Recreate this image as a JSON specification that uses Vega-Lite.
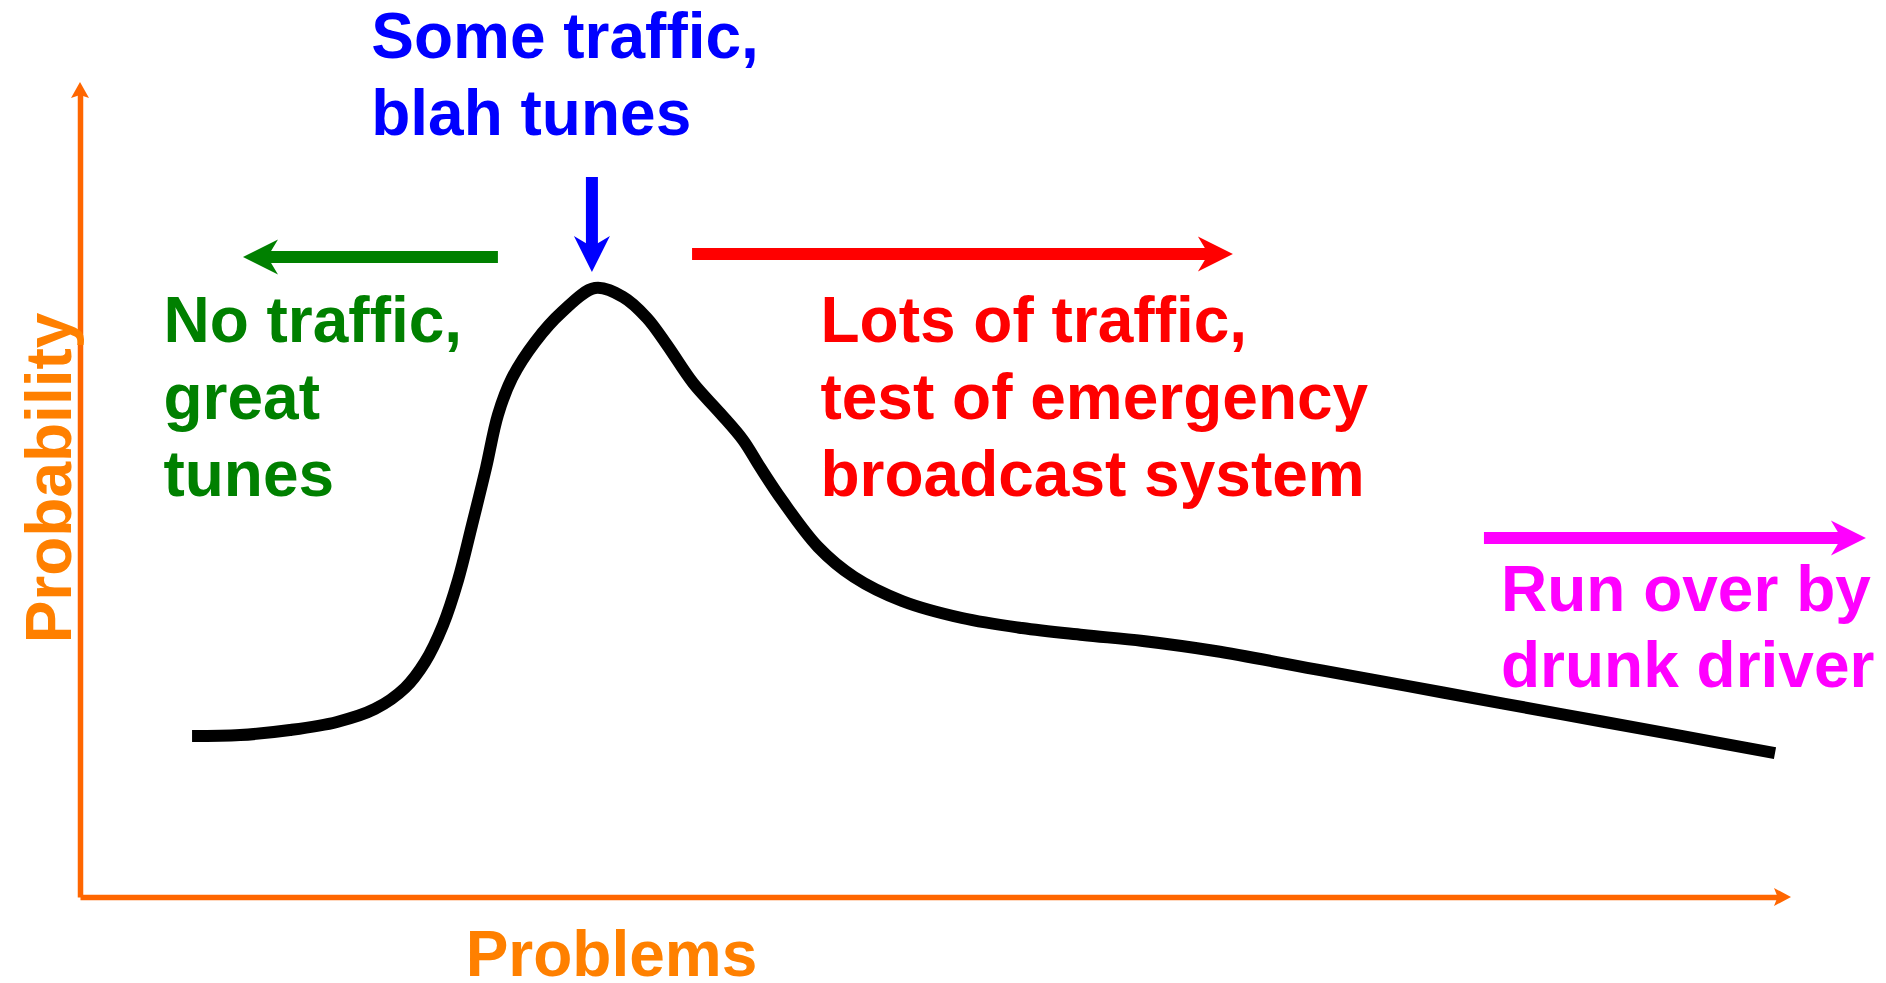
{
  "$schema": "https://vega.github.io/schema/vega-lite/v6.json",
  "autosize": {"type": "none"},
  "padding": {"left": 80, "top": 90, "right": 103, "bottom": 86},
  "width": 1703,
  "height": 807,
  "background": "white",
  "config": {"view": {"stroke": null}},
  "encoding": {
    "x": {
      "field": "x", "type": "quantitative",
      "scale": {"domain": [0, 100], "nice": false, "zero": false},
      "axis": {
        "title": "Problems", "domainColor": "#FF6600", "domainWidth": 5.5,
        "ticks": false, "labels": false, "grid": false,
        "titleFont": "Liberation Sans", "titleFontSize": 64, "titleFontWeight": "bold",
        "titleColor": "#FF8000", "titleX": 531, "titleY": 78,
        "titleAlign": "center", "titleBaseline": "alphabetic"
      }
    },
    "y": {
      "field": "y", "type": "quantitative",
      "scale": {"domain": [0, 100], "nice": false, "zero": false},
      "axis": {
        "title": "Probability", "domainColor": "#FF6600", "domainWidth": 5.5,
        "ticks": false, "labels": false, "grid": false,
        "titleFont": "Liberation Sans", "titleFontSize": 64, "titleFontWeight": "bold",
        "titleColor": "#FF8000", "titleX": -10, "titleY": 387.5, "titleAngle": -90,
        "titleAlign": "center", "titleBaseline": "alphabetic"
      }
    }
  },
  "layer": [
    {
      "data": {"values": [
        {"x": 6.58, "y": 19.95}, {"x": 9.40, "y": 20.07}, {"x": 12.33, "y": 20.69},
        {"x": 15.09, "y": 21.69}, {"x": 17.32, "y": 23.30}, {"x": 19.08, "y": 25.90},
        {"x": 20.26, "y": 29.12}, {"x": 21.32, "y": 33.71}, {"x": 22.20, "y": 39.28},
        {"x": 23.02, "y": 46.10}, {"x": 23.84, "y": 53.16}, {"x": 24.54, "y": 59.73},
        {"x": 25.37, "y": 64.31}, {"x": 26.72, "y": 68.77}, {"x": 28.30, "y": 72.49},
        {"x": 30.24, "y": 75.46}, {"x": 31.89, "y": 74.35}, {"x": 33.29, "y": 71.75},
        {"x": 34.47, "y": 68.40}, {"x": 36.00, "y": 63.69}, {"x": 37.58, "y": 59.98},
        {"x": 38.93, "y": 56.63}, {"x": 39.93, "y": 53.28}, {"x": 41.22, "y": 49.19},
        {"x": 43.34, "y": 43.37}, {"x": 45.45, "y": 39.65}, {"x": 48.27, "y": 36.68},
        {"x": 51.79, "y": 34.57}, {"x": 55.31, "y": 33.33}, {"x": 58.90, "y": 32.47},
        {"x": 62.42, "y": 31.72}, {"x": 66.65, "y": 30.48}, {"x": 72.99, "y": 28.04},
        {"x": 80.03, "y": 25.34}, {"x": 87.14, "y": 22.60}, {"x": 94.19, "y": 19.90},
        {"x": 99.53, "y": 17.84}
      ]},
      "mark": {"type": "line", "color": "black", "strokeWidth": 12, "interpolate": "catmull-rom", "strokeCap": "butt"}
    },
    {
      "data": {"values": [{"x": 24.54, "x2": 9.57, "y": 79.31}]},
      "mark": {"type": "rule", "color": "#008000", "strokeWidth": 12, "x2Offset": 15},
      "encoding": {"x2": {"field": "x2"}}
    },
    {
      "data": {"values": [{"x": 9.57, "y": 79.31}]},
      "mark": {"type": "point", "shape": "M0,0L2,-1L1.4,0L2,1Z", "filled": true, "size": 1225, "color": "#008000", "opacity": 1, "strokeWidth": 0}
    },
    {
      "data": {"values": [{"x": 35.94, "x2": 67.70, "y": 79.68}]},
      "mark": {"type": "rule", "color": "#FF0000", "strokeWidth": 12, "x2Offset": -15},
      "encoding": {"x2": {"field": "x2"}}
    },
    {
      "data": {"values": [{"x": 67.70, "y": 79.68}]},
      "mark": {"type": "point", "shape": "M0,0L-2,-1L-1.4,0L-2,1Z", "filled": true, "size": 1225, "color": "#FF0000", "opacity": 1, "strokeWidth": 0}
    },
    {
      "data": {"values": [{"x": 82.44, "x2": 104.87, "y": 44.49}]},
      "mark": {"type": "rule", "color": "#FF00FF", "strokeWidth": 12, "x2Offset": -15},
      "encoding": {"x2": {"field": "x2"}}
    },
    {
      "data": {"values": [{"x": 104.87, "y": 44.49}]},
      "mark": {"type": "point", "shape": "M0,0L-2,-1L-1.4,0L-2,1Z", "filled": true, "size": 1225, "color": "#FF00FF", "opacity": 1, "strokeWidth": 0}
    },
    {
      "data": {"values": [{"x": 30.06, "y": 89.22, "y2": 77.45}]},
      "mark": {"type": "rule", "color": "#0000FF", "strokeWidth": 12, "y2Offset": -15},
      "encoding": {"y2": {"field": "y2"}}
    },
    {
      "data": {"values": [{"x": 30.06, "y": 77.45}]},
      "mark": {"type": "point", "shape": "M0,0L-1,-2L0,-1.4L1,-2Z", "filled": true, "size": 1296, "color": "#0000FF", "opacity": 1, "strokeWidth": 0}
    },
    {
      "data": {"values": [{"x": 0, "y": 100}]},
      "mark": {"type": "point", "shape": "M0,-0.89L1,0.89L0,0.55L-1,0.89Z", "filled": true, "size": 324, "color": "#FF6600", "opacity": 1, "strokeWidth": 0}
    },
    {
      "data": {"values": [{"x": 100, "y": 0}]},
      "mark": {"type": "point", "shape": "M0.89,0L-1,-1L-0.6,0L-1,1Z", "filled": true, "size": 324, "color": "#FF6600", "opacity": 1, "strokeWidth": 0}
    },
    {
      "data": {"values": [{"x": 17.10, "y": 103.97, "label": "Some traffic,\nblah tunes"}]},
      "mark": {"type": "text", "align": "left", "baseline": "alphabetic", "font": "Liberation Sans", "fontWeight": "bold", "fontSize": 64, "lineHeight": 77, "lineBreak": "\n", "color": "#0000FF"},
      "encoding": {"text": {"field": "label"}}
    },
    {
      "data": {"values": [{"x": 4.90, "y": 68.77, "label": "No traffic,\ngreat\ntunes"}]},
      "mark": {"type": "text", "align": "left", "baseline": "alphabetic", "font": "Liberation Sans", "fontWeight": "bold", "fontSize": 64, "lineHeight": 77, "lineBreak": "\n", "color": "#008000"},
      "encoding": {"text": {"field": "label"}}
    },
    {
      "data": {"values": [{"x": 43.48, "y": 68.77, "label": "Lots of traffic,\ntest of emergency\nbroadcast system"}]},
      "mark": {"type": "text", "align": "left", "baseline": "alphabetic", "font": "Liberation Sans", "fontWeight": "bold", "fontSize": 64, "lineHeight": 77, "lineBreak": "\n", "color": "#FF0000"},
      "encoding": {"text": {"field": "label"}}
    },
    {
      "data": {"values": [{"x": 83.44, "y": 35.44, "label": "Run over by\ndrunk driver"}]},
      "mark": {"type": "text", "align": "left", "baseline": "alphabetic", "font": "Liberation Sans", "fontWeight": "bold", "fontSize": 64, "lineHeight": 76, "lineBreak": "\n", "color": "#FF00FF"},
      "encoding": {"text": {"field": "label"}}
    }
  ]
}
